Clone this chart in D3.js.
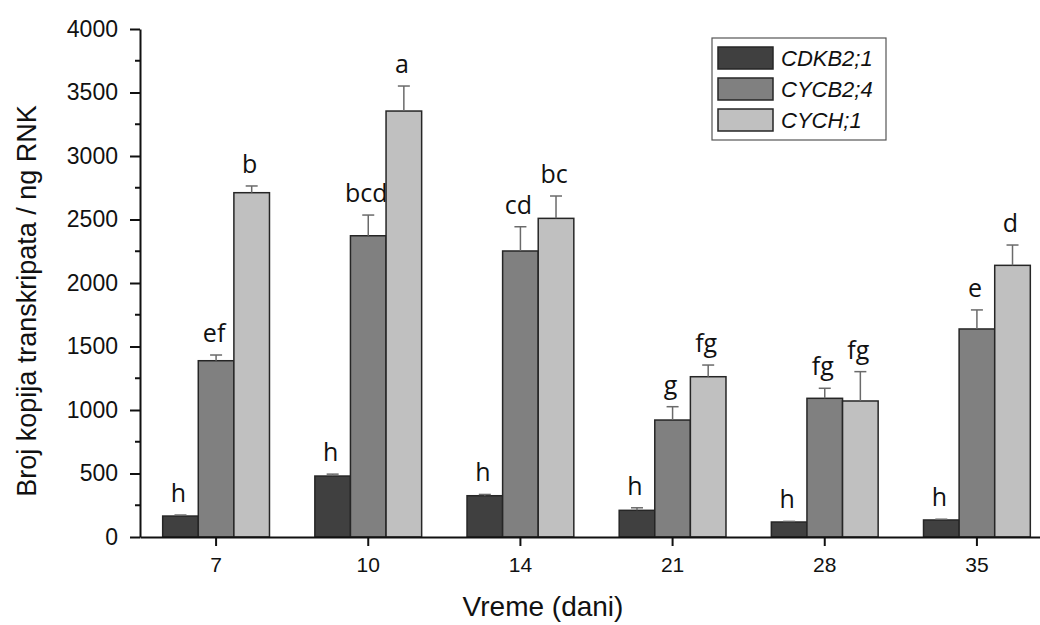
<!DOCTYPE html>
<html>
<head>
<meta charset="utf-8">
<script src="https://cdn.jsdelivr.net/npm/d3@7"></script>
<style>
  body { margin: 0; background: #fff; }
  svg { display: block; }
</style>
</head>
<body>
<svg id="chart" width="1040" height="625"></svg>
<script>
const categories = ["7", "10", "14", "21", "28", "35"];
const seriesNames = ["CDKB2;1", "CYCB2;4", "CYCH;1"];
const cdkb2Values = [165, 480, 325, 210, 118, 134];
const cdkb2Errors = [8, 15, 10, 20, 5, 6];
const cdkb2Letters = ["h", "h", "h", "h", "h", "h"];
const cycb2Values = [1388, 2372, 2252, 921, 1092, 1638];
const cycb2Errors = [45, 163, 191, 105, 79, 150];
const cycb2Letters = ["ef", "bcd", "cd", "g", "fg", "e"];
const cychValues = [2711, 3354, 2509, 1262, 1071, 2139];
const cychErrors = [53, 197, 176, 92, 231, 160];
const cychLetters = ["b", "a", "bc", "fg", "fg", "d"];
const yTicks = [0, 500, 1000, 1500, 2000, 2500, 3000, 3500, 4000];
const colors = ["#404040", "#808080", "#c0c0c0"];

const series = [
  {name: seriesNames[0], values: cdkb2Values, errors: cdkb2Errors, letters: cdkb2Letters},
  {name: seriesNames[1], values: cycb2Values, errors: cycb2Errors, letters: cycb2Letters},
  {name: seriesNames[2], values: cychValues, errors: cychErrors, letters: cychLetters}
];

const svg = d3.select("#chart");
const x0 = 140, x1 = 1053, yBot = 537, yTop = 29;

const x = d3.scaleBand().domain(categories).range([x0, x1]).paddingInner(0).paddingOuter(0);
const y = d3.scaleLinear().domain([0, 4000]).range([yBot, yTop]);
const barW = 35.6;
const xs = d3.scaleBand().domain(seriesNames).range([-barW * 1.5, barW * 1.5]).padding(0);

const g = svg.append("g");

// bars
series.forEach((s, si) => {
  const grp = g.append("g");
  categories.forEach((c, ci) => {
    const cx = x(c) + x.bandwidth() / 2;
    const bx = cx + xs(s.name);
    const v = s.values[ci], e = s.errors[ci];
    grp.append("rect")
      .attr("x", bx).attr("y", y(v))
      .attr("width", xs.bandwidth()).attr("height", yBot - y(v))
      .attr("fill", colors[si]).attr("stroke", "#262626").attr("stroke-width", 1.5);
    const mx = bx + xs.bandwidth() / 2;
    grp.append("line").attr("x1", mx).attr("x2", mx).attr("y1", y(v)).attr("y2", y(v + e))
      .attr("stroke", "#6a6a6a").attr("stroke-width", 1.5);
    grp.append("line").attr("x1", mx - 6).attr("x2", mx + 6).attr("y1", y(v + e)).attr("y2", y(v + e))
      .attr("stroke", "#6a6a6a").attr("stroke-width", 1.5);
    grp.append("text").attr("x", mx - 2).attr("y", y(v + e) - 13)
      .attr("text-anchor", "middle")
      .attr("font-family", "'Open Sans', sans-serif").attr("font-size", 25)
      .attr("fill", "#111").text(s.letters[ci]);
  });
});

// y axis
const yAxis = d3.axisLeft(y).tickValues(yTicks).tickFormat(d3.format("d"))
  .tickSize(10).tickPadding(12).tickSizeOuter(0);
const ya = svg.append("g").attr("transform", `translate(${x0},0)`).call(yAxis);
ya.select(".domain").attr("stroke", "#111").attr("stroke-width", 2);
ya.selectAll(".tick line").attr("stroke", "#111").attr("stroke-width", 2);
ya.selectAll(".tick text").attr("font-family", "'Liberation Sans', Arial, sans-serif")
  .attr("font-size", 23).attr("fill", "#111");
// minor ticks
const minor = d3.range(250, 4000, 500);
svg.append("g").selectAll("line").data(minor).join("line")
  .attr("x1", x0 - 5).attr("x2", x0).attr("y1", d => y(d)).attr("y2", d => y(d))
  .attr("stroke", "#111").attr("stroke-width", 2);

// x axis
const xAxis = d3.axisBottom(x).tickSize(9).tickPadding(11).tickSizeOuter(0);
const xa = svg.append("g").attr("transform", `translate(0,${yBot})`).call(xAxis);
xa.select(".domain").attr("stroke", "#111").attr("stroke-width", 2);
xa.selectAll(".tick line").attr("stroke", "#111").attr("stroke-width", 2);
xa.selectAll(".tick text").attr("font-family", "'Liberation Sans', Arial, sans-serif")
  .attr("font-size", 21).attr("fill", "#111");

// axis titles
svg.append("text").attr("x", 543).attr("y", 616).attr("text-anchor", "middle")
  .attr("font-family", "'Liberation Sans', Arial, sans-serif").attr("font-size", 28)
  .attr("fill", "#111").text("Vreme (dani)");
svg.append("text").attr("transform", "translate(36,301) rotate(-90)").attr("text-anchor", "middle")
  .attr("font-family", "'Liberation Sans', Arial, sans-serif").attr("font-size", 27)
  .attr("fill", "#111").text("Broj kopija transkripata / ng RNK");

// legend
const lg = svg.append("g");
lg.append("rect").attr("x", 712).attr("y", 38).attr("width", 174).attr("height", 102)
  .attr("fill", "#fff").attr("stroke", "#555").attr("stroke-width", 1.2);
series.forEach((s, i) => {
  const yy = 47 + i * 31;
  lg.append("rect").attr("x", 718).attr("y", yy).attr("width", 55).attr("height", 22)
    .attr("fill", colors[i]).attr("stroke", "#262626").attr("stroke-width", 1.5);
  lg.append("text").attr("x", 781).attr("y", yy + 19)
    .attr("font-family", "'Liberation Sans', Arial, sans-serif").attr("font-style", "italic")
    .attr("font-size", 22).attr("fill", "#111").text(s.name);
});
</script>
</body>
</html>
